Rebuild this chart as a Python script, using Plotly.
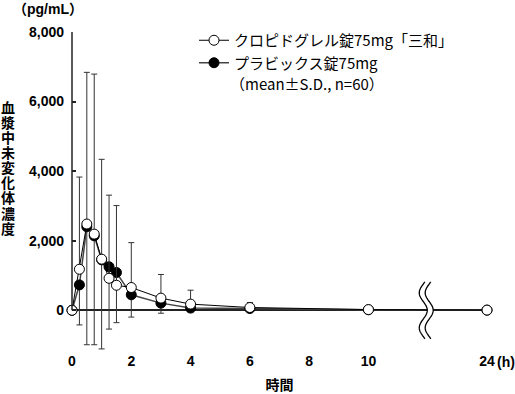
import math
import plotly.graph_objects as go

# ---------------- data ----------------
times = [0, 0.25, 0.5, 0.75, 1, 1.25, 1.5, 2, 3, 4, 6, 10, 24]
sanwa_mean = [0, 1180, 2480, 2190, 1470, 920, 720, 655, 350, 178, 80, 20, 5]
sanwa_sd = [0, 2650, 4360, 4600, 2870, 2390, 2290, 1290, 680, 400, 145, 20, 10]
plavix_mean = [0, 730, 2400, 2140, 1450, 1250, 1085, 445, 206, 63, 50, 15, 5]
plavix_sd = [0, 1150, 3390, 3130, 2560, 1790, 1440, 640, 290, 100, 60, 20, 5]

x_tick_hours = [0, 2, 4, 6, 8, 10, 24]
y_tick_vals = [0, 2000, 4000, 6000, 8000]
y_tick_text = ["0", "2,000", "4,000", "6,000", "8,000"]

name_sanwa = "クロピドグレル錠75mg「三和」"
name_plavix = "プラビックス錠75mg"
y_title = "血漿中未変化体濃度"
x_title = "時間"
unit_y = "（pg/mL）"
note = "（mean±S.D., n=60）"

# broken time axis: 0-10 h linear, then a break, 24 h drawn 2 units after the break
LATE_POS = 14
LATE_T = 24


def axis_pos(t):
    return t if t <= 10 else LATE_POS + (t - LATE_T)


xs = [axis_pos(t) for t in times]
x_tick_pos = [axis_pos(t) for t in x_tick_hours]
x_tick_text = [str(t) for t in x_tick_hours]

FONT = "Liberation Sans, Noto Sans CJK JP, sans-serif"
JFONT = "Noto Sans CJK JP, sans-serif"

W, H = 515, 394
ML, MR, MT, MB = 72, 28, 32, 43
PW, PH = W - ML - MR, H - MT - MB


def px_x(px):
    return (px - ML) / PW


def px_y(py):
    return (H - MB - py) / PH


fig = go.Figure()

fig.add_trace(go.Scatter(
    x=xs, y=plavix_mean, name=name_plavix, mode="lines+markers",
    line=dict(color="#444444", width=1.5),
    marker=dict(symbol="circle", size=10, color="black", line=dict(color="black", width=1)),
    error_y=dict(type="data", symmetric=False, array=[0] * len(times), arrayminus=plavix_sd,
                 color="#333333", thickness=1, width=3),
    cliponaxis=False, legendrank=2,
))
fig.add_trace(go.Scatter(
    x=xs, y=sanwa_mean, name=name_sanwa, mode="lines+markers",
    line=dict(color="black", width=1),
    marker=dict(symbol="circle", size=10, color="white", line=dict(color="black", width=1)),
    error_y=dict(type="data", symmetric=False, array=sanwa_sd, arrayminus=[0] * len(times),
                 color="#333333", thickness=1, width=3),
    cliponaxis=False, legendrank=1,
))

shapes = []
# y axis line only from 0 to 8000
shapes.append(dict(type="line", xref="paper", yref="y", x0=0, x1=0, y0=0, y1=8000,
                   line=dict(color="#222222", width=1.5), layer="above"))

# axis break marker (two wavy lines)
amp = 0.135
gap = 0.2
period = 1006
cx = 11.85
ys_ = [820 - i * 20 for i in range(83)]
left = [(cx + amp * math.cos(2 * math.pi * y / period), y) for y in ys_]
right = [(x + gap, y) for x, y in left]
poly = "M " + " L ".join(f"{x:.4f},{y:.1f}" for x, y in left)
poly += " L " + " L ".join(f"{x:.4f},{y:.1f}" for x, y in reversed(right)) + " Z"
shapes.append(dict(type="path", xref="x", yref="y", path=poly, fillcolor="white",
                   line=dict(width=0), layer="above"))
for curve in (left, right):
    p = "M " + " L ".join(f"{x:.4f},{y:.1f}" for x, y in curve)
    shapes.append(dict(type="path", xref="x", yref="y", path=p,
                       line=dict(color="black", width=1.3), layer="above"))

annotations = []
vt = "<br>".join(f"<span style='font-size:14px'><b>{ch}</b></span>" for ch in y_title)
annotations.append(dict(text=vt, xref="paper", yref="paper",
                        x=px_x(8), y=px_y(167.5), showarrow=False,
                        font=dict(family=JFONT, size=11.6, color="black"),
                        xanchor="center", yanchor="middle"))
annotations.append(dict(text=f"<b>{unit_y}</b>", xref="paper", yref="paper",
                        x=px_x(48), y=px_y(8.5), showarrow=False,
                        font=dict(family=FONT, size=14, color="black"),
                        xanchor="center", yanchor="middle"))
annotations.append(dict(text="<b>(h)</b>", xref="paper", yref="paper",
                        x=px_x(495), y=px_y(362), showarrow=False,
                        font=dict(family=FONT, size=14, color="black"),
                        xanchor="left", yanchor="middle"))
annotations.append(dict(text=note, xref="paper", yref="paper",
                        x=px_x(228), y=px_y(84), showarrow=False,
                        font=dict(family=JFONT, size=15, color="black"),
                        xanchor="left", yanchor="middle"))

fig.update_layout(
    width=W, height=H,
    margin=dict(l=ML, r=MR, t=MT, b=MB, autoexpand=False),
    paper_bgcolor="white", plot_bgcolor="white",
    font=dict(family=FONT, size=14, color="black"),
    showlegend=True,
    legend=dict(x=px_x(194), y=px_y(24), xanchor="left", yanchor="top",
                bgcolor="rgba(0,0,0,0)", font=dict(family=JFONT, size=15, color="black"),
                tracegroupgap=0, itemsizing="trace"),
    shapes=shapes,
    annotations=annotations,
    xaxis=dict(range=[0, LATE_POS], tickvals=x_tick_pos, ticktext=[f"<b>{t}</b>" for t in x_tick_text],
               showgrid=False, zeroline=False, showline=False, ticks="", automargin=False,
               tickfont=dict(family=FONT, size=14, color="black"),
               title=dict(text=f"<b>{x_title}</b>", font=dict(family=JFONT, size=14, color="black"),
                          standoff=15)),
    yaxis=dict(range=[-1170, 8000], tickvals=y_tick_vals, ticktext=[f"<b>{t}</b>" for t in y_tick_text],
               showgrid=False, zeroline=True, zerolinecolor="#222222", zerolinewidth=1.5,
               showline=False, ticks="inside", ticklen=4, tickcolor="#222222", tickwidth=1.5,
               ticklabelstandoff=7, automargin=False,
               tickfont=dict(family=FONT, size=14, color="black")),
)

fig.write_html("out.html", config={"displayModeBar": False},
               post_script="document.body.style.margin='0px';")
